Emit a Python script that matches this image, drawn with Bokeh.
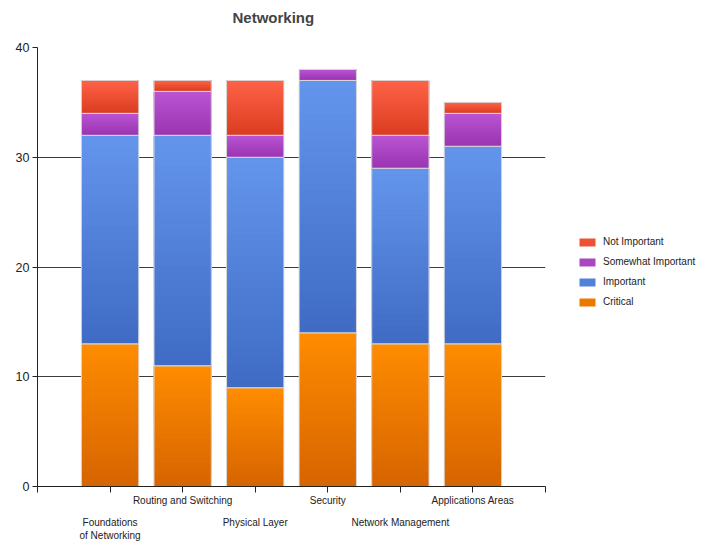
from bokeh.plotting import figure
from bokeh.models import ColumnDataSource, Legend, LegendItem, FixedTicker, Range1d, LinearAxis
from bokeh.embed import file_html
from bokeh.resources import INLINE

# ---- data ----
categories = ["Foundations\nof Networking", "Routing and Switching", "Physical Layer",
              "Security", "Network Management", "Applications Areas"]
critical = [13, 11, 9, 14, 13, 13]
important = [19, 21, 21, 23, 16, 18]
somewhat_important = [2, 4, 2, 1, 3, 3]
not_important = [3, 1, 5, 0, 5, 1]
series_names = ["Critical", "Important", "Somewhat Important", "Not Important"]
y_ticks = [0, 10, 20, 30, 40]

# ---- style ----
top_colors = ["#FF8C00", "#6495ED", "#BA55D3", "#FF6347"]
bottom_colors = ["#D66400", "#3F6BC4", "#9A34B0", "#DA3C20"]
FONT = "Liberation Sans"
N_STRIPS = 30
HALF = 0.395

def hex2rgb(h):
    h = h.lstrip("#")
    return tuple(int(h[i:i + 2], 16) for i in (0, 2, 4))

def lerp(c1, c2, t):
    a, b = hex2rgb(c1), hex2rgb(c2)
    return "#%02x%02x%02x" % tuple(int(round(a[k] + (b[k] - a[k]) * t)) for k in range(3))

p = figure(frame_width=508, frame_height=439, output_backend="svg", toolbar_location=None,
           x_range=Range1d(0, 7), y_range=Range1d(0, 40),
           min_border_left=37, min_border_right=157, min_border_top=47, min_border_bottom=54)
p.outline_line_color = None
p.background_fill_color = "white"
p.border_fill_color = "white"

series = [critical, important, somewhat_important, not_important]
xs = list(range(1, len(categories) + 1))
base = [0] * len(categories)
legend_renderers = []
for s, vals in enumerate(series):
    L, R, B, T, C = [], [], [], [], []
    oL, oR, oB, oT = [], [], [], []
    for i, v in enumerate(vals):
        b = base[i]
        t = b + v
        if v > 0:
            for k in range(N_STRIPS):
                frac = k / N_STRIPS
                L.append(xs[i] - HALF)
                R.append(xs[i] + HALF)
                B.append(b + v * frac)
                T.append(t)
                C.append(lerp(bottom_colors[s], top_colors[s], (k + 0.5) / N_STRIPS))
            oL.append(xs[i] - HALF)
            oR.append(xs[i] + HALF)
            oB.append(b)
            oT.append(t)
        base[i] = t
    r = p.quad(left="left", right="right", bottom="bottom", top="top", fill_color="color",
               line_color=None,
               source=ColumnDataSource(dict(left=L, right=R, bottom=B, top=T, color=C)))
    p.quad(left="left", right="right", bottom="bottom", top="top", fill_color=None,
           line_color="#DADADA", line_width=1,
           source=ColumnDataSource(dict(left=oL, right=oR, bottom=oB, top=oT)))
    legend_renderers.append(r)

# ---- axes ----
p.xgrid.visible = False
p.ygrid.ticker = FixedTicker(ticks=y_ticks)
p.ygrid.grid_line_color = "#3C3C3C"
p.ygrid.grid_line_width = 1

p.yaxis.ticker = FixedTicker(ticks=y_ticks)
p.yaxis.minor_tick_line_color = None
p.yaxis.major_tick_in = 0
p.yaxis.major_tick_out = 5
p.yaxis.axis_line_color = "#222222"
p.yaxis.major_tick_line_color = "#222222"
p.yaxis.major_label_text_font = FONT
p.yaxis.major_label_text_font_size = "12.5px"
p.yaxis.major_label_text_color = "#222222"
p.yaxis.major_label_standoff = 3

# upper row of category labels on the main x axis, lower row on a second axis
upper = {xs[i]: categories[i] for i in range(len(categories)) if i % 2 == 1}
lower = {xs[i]: categories[i] for i in range(len(categories)) if i % 2 == 0}
all_ticks = list(range(0, len(categories) + 2))
xa = p.xaxis[0]
xa.ticker = FixedTicker(ticks=all_ticks)
xa.major_label_overrides = {k: upper.get(k, "") for k in all_ticks}
xa.minor_tick_line_color = None
xa.major_tick_in = 0
xa.major_tick_out = 6
xa.axis_line_color = "#222222"
xa.major_tick_line_color = "#222222"
xa.major_label_text_font = FONT
xa.major_label_text_font_size = "10px"
xa.major_label_text_color = "#222222"
xa.major_label_standoff = 2

xb = LinearAxis(ticker=FixedTicker(ticks=list(lower.keys())),
                major_label_overrides=lower)
xb.axis_line_color = None
xb.major_tick_line_color = None
xb.minor_tick_line_color = None
xb.major_tick_in = 0
xb.major_tick_out = 0
xb.major_label_text_font = FONT
xb.major_label_text_font_size = "10px"
xb.major_label_text_color = "#222222"
xb.major_label_standoff = 8
p.add_layout(xb, "below")

# ---- title ----
p.title.text = "Networking\n "
p.title.text_font = FONT
p.title.text_font_size = "15px"
p.title.text_font_style = "bold"
p.title.align = "left"
p.title.offset = 195
p.title.standoff = 10

# ---- legend ----
mid = N_STRIPS // 2
items = [LegendItem(label=series_names[s], renderers=[legend_renderers[s]], index=mid)
         for s in (3, 2, 1, 0)]
legend = Legend(items=items, location=(32, 179), margin=0, padding=0, spacing=9,
                glyph_width=20, glyph_height=10, label_standoff=6,
                label_text_font=FONT, label_text_font_size="10px", label_text_color="#222222",
                background_fill_alpha=0, border_line_color=None)
p.add_layout(legend, "right")

open("out.html", "w").write(file_html(p, INLINE))
